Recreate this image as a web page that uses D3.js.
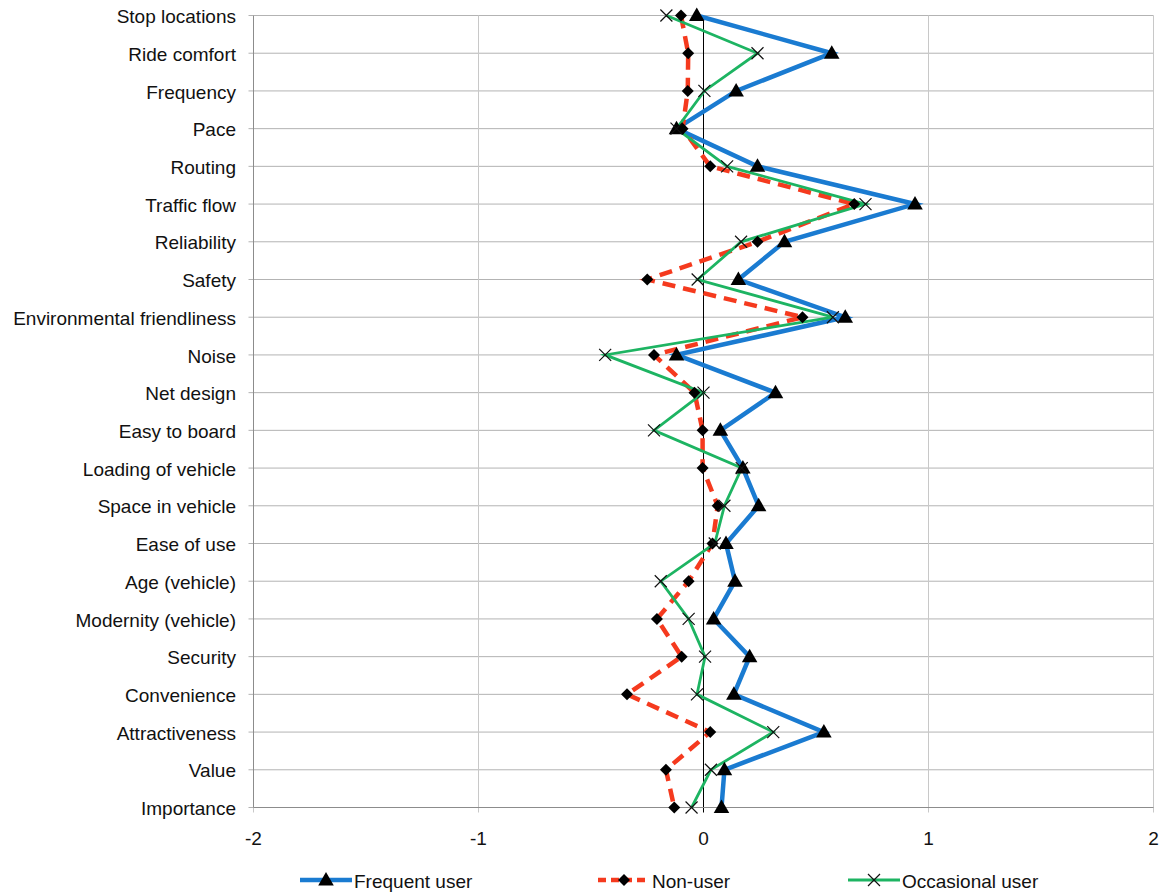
<!DOCTYPE html>
<html><head><meta charset="utf-8">
<script src="https://cdn.jsdelivr.net/npm/d3@7"></script>
<style>body{margin:0;background:#fff}svg{font-family:"Liberation Sans",Arial,sans-serif}</style>
</head><body><svg id="c" width="1159" height="892"></svg>
<script>
const categories = ["Stop locations","Ride comfort","Frequency","Pace","Routing","Traffic flow","Reliability","Safety","Environmental friendliness","Noise","Net design","Easy to board","Loading of vehicle","Space in vehicle","Ease of use","Age (vehicle)","Modernity (vehicle)","Security","Convenience","Attractiveness","Value","Importance"];
const frequentUser = [-0.03,0.57,0.145,-0.12,0.24,0.94,0.36,0.155,0.63,-0.12,0.32,0.075,0.175,0.245,0.10,0.14,0.045,0.205,0.135,0.535,0.093,0.08];
const nonUser = [-0.10,-0.068,-0.07,-0.093,0.03,0.67,0.24,-0.25,0.44,-0.22,-0.04,-0.004,-0.004,0.063,0.04,-0.066,-0.207,-0.097,-0.34,0.03,-0.167,-0.13];
const occasionalUser = [-0.165,0.24,0.004,-0.12,0.105,0.72,0.167,-0.026,0.575,-0.437,0,-0.22,0.17,0.093,0.05,-0.19,-0.066,0.007,-0.029,0.31,0.033,-0.053];
const xTicks = [-2,-1,0,1,2];

const svg = d3.select("#c");
const L=253.5, R=1153.5, T=15.5, B=807.5;
const x = d3.scaleLinear().domain([-2,2]).range([L,R]);
const y = d3.scalePoint().domain(categories).range([T,B]);

// horizontal gridlines
svg.append("g").selectAll("line").data(categories).join("line")
  .attr("x1",L-5).attr("x2",R).attr("y1",d=>y(d)).attr("y2",d=>y(d))
  .attr("stroke","#b3b3b3").attr("stroke-width",1);
// vertical gridlines
svg.append("g").selectAll("line").data(xTicks).join("line")
  .attr("x1",d=>x(d)).attr("x2",d=>x(d)).attr("y1",T).attr("y2",B+5)
  .attr("stroke",d=>d===0?"#000":"#c8c8c8").attr("stroke-width",1);
// frame left/bottom
svg.append("line").attr("x1",L).attr("x2",L).attr("y1",T).attr("y2",B).attr("stroke","#8c8c8c");
svg.append("line").attr("x1",L).attr("x2",R).attr("y1",B).attr("y2",B).attr("stroke","#8c8c8c");

// category labels
svg.append("g").selectAll("text").data(categories).join("text")
  .attr("x",236).attr("y",d=>y(d)+1).attr("dy","0.35em").attr("text-anchor","end")
  .attr("font-size",19).attr("fill","#111").text(d=>d);
// x tick labels
svg.append("g").selectAll("text").data(xTicks).join("text")
  .attr("x",d=>x(d)).attr("y",838).attr("dy","0.35em").attr("text-anchor","middle")
  .attr("font-size",19).attr("fill","#111").text(d=>d);

const series = [
  {name:"Frequent user", vals:frequentUser, color:"#1a7bd1", w:4.5, dash:null, marker:"tri"},
  {name:"Non-user", vals:nonUser, color:"#f53a1e", w:4.5, dash:"13,8", marker:"dia"},
  {name:"Occasional user", vals:occasionalUser, color:"#1db462", w:2.8, dash:null, marker:"x"}
];
const line = d3.line().x(d=>x(d.v)).y(d=>y(d.c));
function drawMarker(g, type, cx, cy){
  if(type==="tri"){
    g.append("path").attr("d",d3.symbol(d3.symbolTriangle,105)()).attr("transform",`translate(${cx},${cy+1})`).attr("fill","#000");
  } else if(type==="dia"){
    g.append("path").attr("d",d3.symbol(d3.symbolSquare,72)()).attr("transform",`translate(${cx},${cy}) rotate(45)`).attr("fill","#000");
  } else {
    g.append("path").attr("d",`M${cx-6},${cy-6}L${cx+6},${cy+6}M${cx-6},${cy+6}L${cx+6},${cy-6}`).attr("stroke","#111").attr("stroke-width",1.2).attr("fill","none");
  }
}
series.forEach(s=>{
  const data = categories.map((c,i)=>({c, v:s.vals[i]}));
  svg.append("path").datum(data).attr("d",line).attr("fill","none")
    .attr("stroke",s.color).attr("stroke-width",s.w).attr("stroke-linejoin","miter")
    .attr("stroke-dasharray",s.dash);
});
series.forEach(s=>{
  const g = svg.append("g");
  categories.forEach((c,i)=>drawMarker(g,s.marker,x(s.vals[i]),y(c)));
});

// legend
const legX = [300, 598, 848];
series.forEach((s,i)=>{
  const g = svg.append("g");
  g.append("line").attr("x1",legX[i]).attr("x2",legX[i]+52).attr("y1",880).attr("y2",880)
    .attr("stroke",s.color).attr("stroke-width",s.w).attr("stroke-dasharray",s.dash?"8,5":null);
  drawMarker(g,s.marker,legX[i]+26,880);
  g.append("text").attr("x",legX[i]+54).attr("y",881).attr("dy","0.35em").attr("font-size",19).attr("fill","#111").text(s.name);
});
</script></body></html>
